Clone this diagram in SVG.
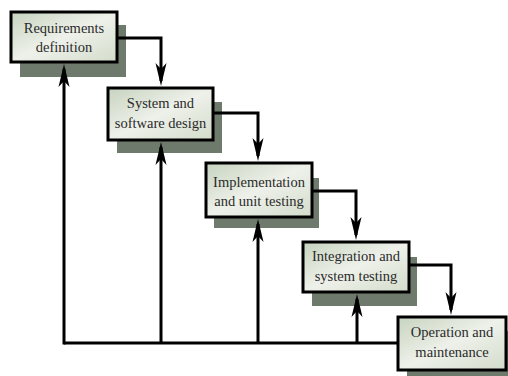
<svg xmlns="http://www.w3.org/2000/svg" width="508" height="376" viewBox="0 0 508 376">
<defs>
<linearGradient id="boxfill" x1="0" y1="0" x2="1" y2="1">
<stop offset="0" stop-color="#c7d3bf"/>
<stop offset="0.5" stop-color="#eef1ea"/>
<stop offset="1" stop-color="#d3dccb"/>
</linearGradient>
<marker id="ah" markerUnits="userSpaceOnUse" markerWidth="26" markerHeight="14" viewBox="-24 -7 26 14" refX="-5" refY="0" orient="auto">
<path d="M0,0 L-23,-5.5 L-17,0 L-23,5.5 Z" fill="#000"/>
</marker>
<style>
.shadow{fill:#6e7a6b}
.box{fill:url(#boxfill);stroke:#000;stroke-width:3}
.lbl{font-family:"Liberation Serif","Times New Roman",serif;font-size:14.5px;fill:#2a2a2a;text-anchor:middle}
.conn{fill:none;stroke:#000;stroke-width:3}
</style>
</defs>
<rect width="508" height="376" fill="#fff"/>
<g id="n1">
<rect class="shadow" x="20" y="25" width="106" height="52"/>
<rect class="box" x="11" y="12" width="106" height="50"/>
<text class="lbl" x="64" y="33">Requirements</text>
<text class="lbl" x="64" y="52">definition</text>
</g>
<g id="n2">
<rect class="shadow" x="117" y="102" width="105" height="51"/>
<rect class="box" x="108" y="88" width="105" height="52"/>
<text class="lbl" x="160.5" y="108">System and</text>
<text class="lbl" x="160.5" y="128">software design</text>
</g>
<g id="n3">
<rect class="shadow" x="214" y="178" width="105" height="50"/>
<rect class="box" x="206" y="163" width="106" height="54"/>
<text class="lbl" x="259" y="187">Implementation</text>
<text class="lbl" x="259" y="206">and unit testing</text>
</g>
<g id="n4">
<rect class="shadow" x="312" y="257" width="105" height="49"/>
<rect class="box" x="303" y="242" width="106" height="50"/>
<text class="lbl" x="356" y="261">Integration and</text>
<text class="lbl" x="356" y="281">system testing</text>
</g>
<g id="n5">
<rect class="shadow" x="407" y="331" width="108" height="53"/>
<rect class="box" x="398" y="317" width="108" height="53"/>
<text class="lbl" x="452" y="337">Operation and</text>
<text class="lbl" x="452" y="357">maintenance</text>
</g>
<g id="connectors">
<path class="conn" d="M117,38 H161 V81" marker-end="url(#ah)"/>
<path class="conn" d="M213,113 H258 V156" marker-end="url(#ah)"/>
<path class="conn" d="M312,191 H356 V235" marker-end="url(#ah)"/>
<path class="conn" d="M409,265 H451 V310" marker-end="url(#ah)"/>
<path class="conn" d="M398,343 H64"/>
<path class="conn" d="M64,344.5 V69" marker-end="url(#ah)"/>
<path class="conn" d="M161,343 V147" marker-end="url(#ah)"/>
<path class="conn" d="M258,343 V224" marker-end="url(#ah)"/>
<path class="conn" d="M357,343 V299" marker-end="url(#ah)"/>
</g>
</svg>
